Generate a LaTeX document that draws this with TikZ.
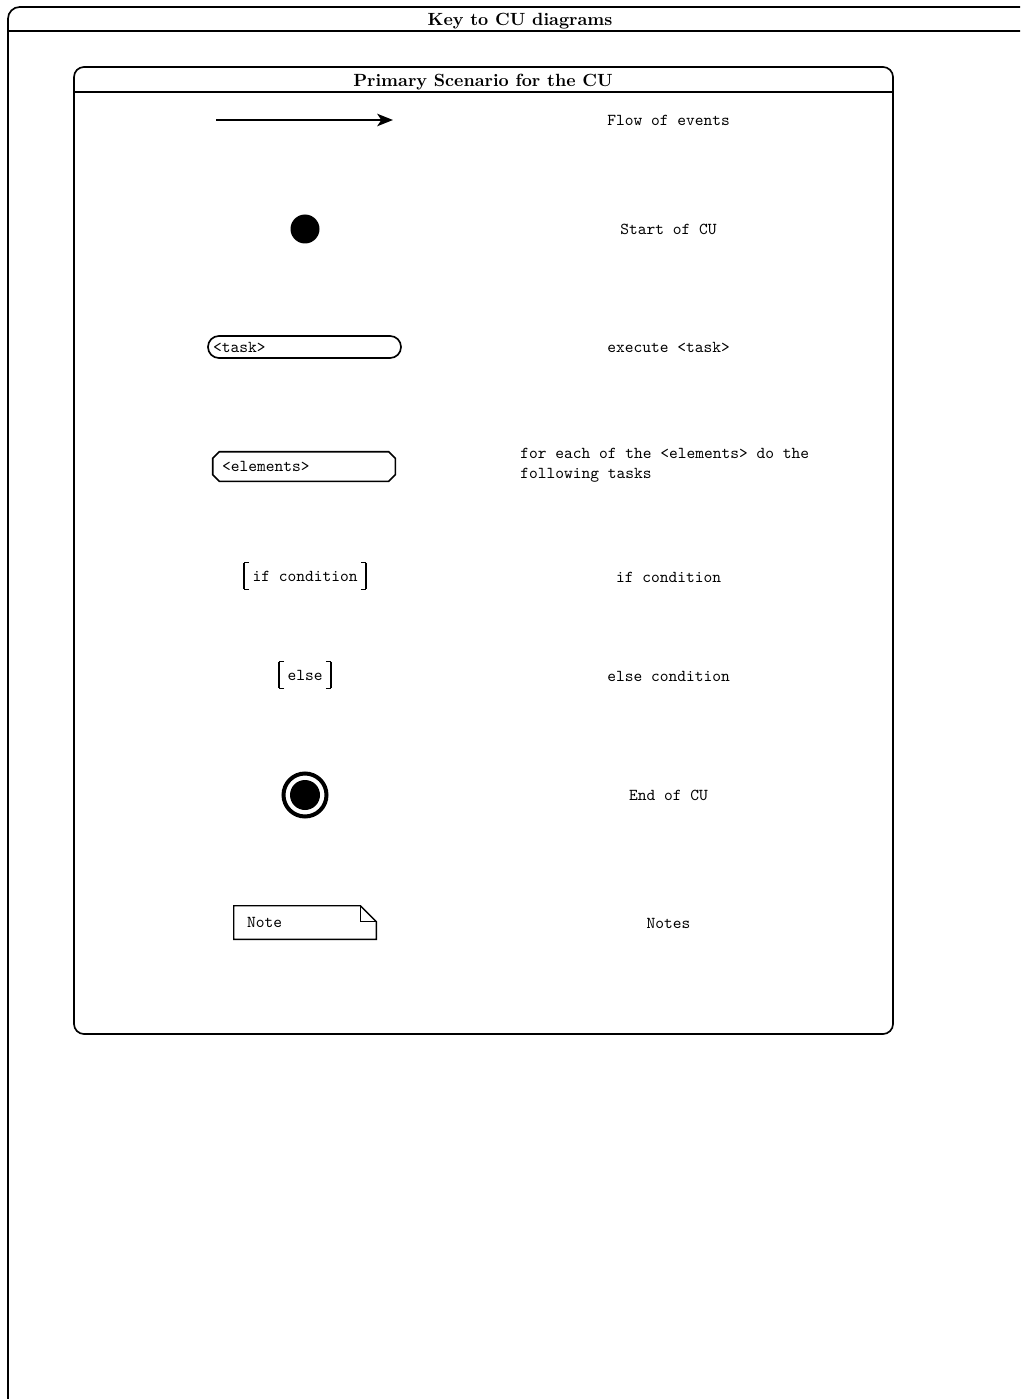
\documentclass[tikz,border=0pt]{standalone}
\usepackage{tikz}
\usetikzlibrary{arrows.meta}

\begin{document}
\begin{tikzpicture}[x=0.6pt, y=-0.6pt, font=\ttfamily,
    panel/.style={line width=1pt},
    heading/.style={font=\rmfamily\bfseries\fontsize{10.6}{12.7}\selectfont},
    legend/.style={inner sep=0pt},
    flow/.style={line width=1pt, -{Stealth[length=9.5pt, width=7.5pt, inset=2.5pt]}},
    dot/.style={circle, fill=black, inner sep=0pt, minimum size=17.4pt},
    taskbox/.style={draw, line width=1pt, rounded corners=6.5pt, minimum height=13.2pt,
      text width=109.8pt, inner xsep=3pt, inner ysep=0pt, align=left},
    elembox/.style={minimum height=17.4pt, text width=98.4pt, inner xsep=5.4pt,
      inner ysep=0pt, align=left},
    condbox/.style={minimum height=15.6pt, inner xsep=5.1pt, inner ysep=0pt},
    notebox/.style={minimum height=19.8pt, text width=69.6pt, inner xsep=7.8pt,
      inner ysep=0pt, align=left}]
  \clip (0,0) rectangle (1020,1399);

  % outer frame
  \draw[panel, rounded corners=7pt] (1040,1420) -- (8,1420) -- (8,7) -- (1040,7);
  \draw[panel] (8,31) -- (1040,31);
  \node[heading] (keytitle) at (520,21.5) {Key to CU diagrams};

  % scenario frame
  \draw[panel, rounded corners=6pt] (74,67) rectangle (893,1034);
  \draw[panel] (74,92) -- (893,92);
  \node[heading] (scenariotitle) at (483,82.5) {Primary Scenario for the CU};

  % symbols
  \coordinate (flowtail) at (216,120);
  \coordinate (flowhead) at (393,120);
  \draw[flow] (flowtail) -- (flowhead);

  \node[dot] (startcu) at (305,229) {};

  \node[taskbox] (task) at (304.5,347) {<task>};

  \node[elembox] (elements) at (304,466.5) {<elements>};
  \draw[line width=1pt] ([xshift=4pt]elements.north west) -- ([xshift=-4pt]elements.north east)
    -- ([yshift=-4pt]elements.north east) -- ([yshift=4pt]elements.south east)
    -- ([xshift=-4pt]elements.south east) -- ([xshift=4pt]elements.south west)
    -- ([yshift=4pt]elements.south west) -- ([yshift=-4pt]elements.north west) -- cycle;

  \node[condbox] (ifcond) at (305,576) {if condition};
  \node[condbox] (elsecond) at (305,675) {else};
  \foreach \c in {ifcond, elsecond} {
    \draw[line width=1.3pt] (\c.north west) -- (\c.south west);
    \draw[line width=1.3pt] (\c.north east) -- (\c.south east);
    \draw[line width=0.5pt] ([xshift=3.3pt]\c.north west) -- (\c.north west)
      ([xshift=3.3pt]\c.south west) -- (\c.south west);
    \draw[line width=0.5pt] ([xshift=-3.3pt]\c.north east) -- (\c.north east)
      ([xshift=-3.3pt]\c.south east) -- (\c.south east);
  }

  \node[dot, minimum size=18pt] (endcu) at (305,795) {};
  \draw[line width=2.4pt] (endcu.center) circle[radius=12.9pt];

  \node[notebox] (note) at (305,922.5) {Note};
  \draw[line width=0.8pt] (note.north west) -- ([xshift=-9.6pt]note.north east)
    -- ([yshift=-9.6pt]note.north east) -- (note.south east) -- (note.south west) -- cycle;
  \draw[line width=0.8pt] ([xshift=-9.6pt]note.north east) |- ([yshift=-9.6pt]note.north east);

  % legend texts
  \foreach \y/\txt [count=\i] in {120/Flow of events, 229/Start of CU, 347/execute <task>,
      577/if condition, 676/else condition, 795/End of CU, 923/Notes}
    \node[legend] (label\i) at (668.5,\y) {\txt};
  \node[legend, anchor=west] (foreachlabel) at (520,464)
    {\begin{tabular}{@{}l@{}}for each of the <elements> do the\\ following tasks\end{tabular}};
\end{tikzpicture}
\end{document}
